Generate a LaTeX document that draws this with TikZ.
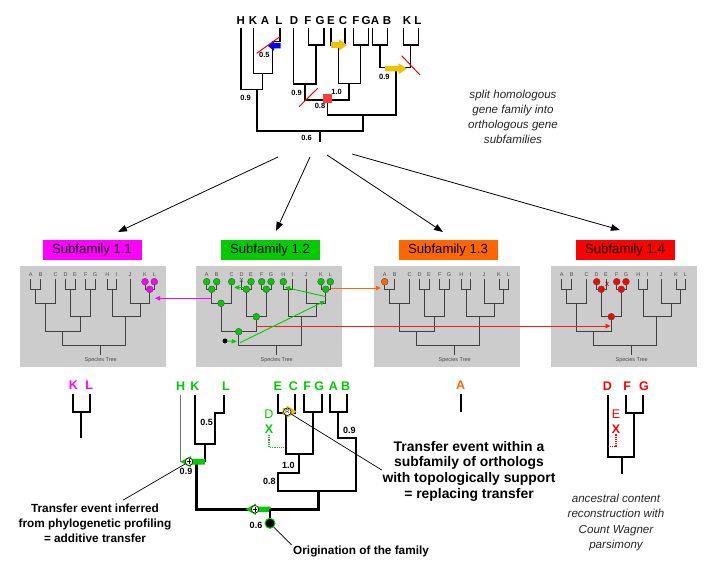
\documentclass[tikz,border=0pt]{standalone}
\usepackage{fontspec}
\setmainfont{Liberation Sans}
\usetikzlibrary{arrows.meta}

\definecolor{subA}{RGB}{255,0,255}
\definecolor{subB}{RGB}{0,204,0}
\definecolor{subC}{RGB}{255,102,0}
\definecolor{subD}{RGB}{255,0,0}
\definecolor{panelgray}{RGB}{204,204,204}
\definecolor{xfergold}{RGB}{235,195,0}
\definecolor{xferblue}{RGB}{0,0,255}
\definecolor{dupred}{RGB}{255,60,60}

\newcommand{\fsz}[2]{\fontsize{#1}{#2}\selectfont}

% fat transfer arrow: colour, tip, direction (1 right / -1 left),
% total length, head length, head half height, body half height
\newcommand{\fatarrow}[7]{%
  \fill[#1, shift={#2}, xscale=#3]
    (0,0) -- (-#5,#6) -- (-#5,#7) -- (-#4,#7) -- (-#4,-#7) -- (-#5,-#7) -- (-#5,-#6) -- cycle;}

% species tree panel: name prefix, left edge
\newcommand{\speciestree}[2]{%
  \begin{scope}[shift={(#2,266)}]
    \fill[panelgray] (0,0) rectangle (146,101);
    \foreach \spn/\spx in {A/10.7,B/20.7,C/35.7,D/45.7,E/55,F/65.7,G/75,H/87.3,I/96.7,J/110,K/125,L/134.3}{
      \node[splabel] (#1\spn) at (\spx,9) {\spn};
      \coordinate (#1\spn-g) at (\spx,15.7);
    }
    \draw[sptree]
      (10.7,13.3) |- (20.7,23.3) -- (20.7,13.3)
      (15.7,23.3) |- (35.7,37.3) -- (35.7,13.3)
      (45.7,13.3) |- (55,23.3) -- (55,13.3)
      (65.7,13.3) |- (75,23.3) -- (75,13.3)
      (50.3,23.3) |- (70.3,50.7) -- (70.3,23.3)
      (25,37.3) |- (60.3,65.7) -- (60.3,50.7)
      (87.3,13.3) |- (96.7,23.3) -- (96.7,13.3)
      (125,13.3) |- (134.3,23.3) -- (134.3,13.3)
      (110,13.3) |- (129.7,37.3) -- (129.7,23.3)
      (92,23.3) |- (120,50.7) -- (120,37.3)
      (42.7,65.7) |- (105.3,79) -- (105.3,50.7)
      (80.7,79) -- (80.7,89);
    \coordinate (#1AB) at (15.7,23.3);
    \coordinate (#1ABC) at (25,37.3);
    \coordinate (#1DE) at (50.3,23.3);
    \coordinate (#1FG) at (70.3,23.3);
    \coordinate (#1DEFG) at (60.3,50.7);
    \coordinate (#1AG) at (42.7,65.7);
    \coordinate (#1KL) at (129.7,23.3);
    \node[splabel] (#1tree) at (80.7,94) {Species Tree};
  \end{scope}}

\begin{document}
\begin{tikzpicture}[x=1pt, y=-1pt,
  every node/.style={inner sep=0pt},
  ttree/.style={line width=1.3pt},
  troot/.style={line width=2.4pt},
  cut/.style={red, line width=1pt},
  bsup/.style={font=\bfseries\fsz{7.5}{8}},
  bsupb/.style={font=\bfseries\fsz{9}{10}},
  leaf/.style={font=\bfseries\fsz{11.5}{12}},
  bleaf/.style={font=\bfseries\fsz{12.5}{13}},
  title/.style={minimum width=99pt, minimum height=20pt, font=\fsz{13.2}{14}},
  splabel/.style={font=\fsz{5.5}{6}, text=black!70},
  sptree/.style={line width=0.9pt, black!75},
  gene/.style={circle, draw=black!70, line width=0.4pt, minimum size=6.8pt},
  bigarrow/.style={line width=0.8pt, -{Triangle[length=9pt,width=6.5pt]}},
  thinarrow/.style={line width=0.9pt, -{Triangle[length=5pt,width=4.5pt]}},
  btree/.style={line width=1.9pt},
  broot/.style={line width=2.6pt},
  note/.style={font=\bfseries\fsz{11.8}{15}, align=center},
  remark/.style={font=\itshape\fsz{11.6}{15.2}, align=center, text=black!85},
  plusmark/.style={circle, draw, fill=white, line width=0.6pt, minimum size=7.5pt,
    path picture={\draw[line width=0.6pt] ([xshift=-2.3pt]path picture bounding box.center) -- ([xshift=2.3pt]path picture bounding box.center)
      ([yshift=-2.3pt]path picture bounding box.center) -- ([yshift=2.3pt]path picture bounding box.center);}},
  rmark/.style={circle, draw, fill=white, line width=0.6pt, minimum size=7.5pt, font=\fsz{5.5}{6}},
  origin/.style={circle, fill=black, draw=subB, line width=1pt, minimum size=10pt}
]
\useasboundingbox (0,0) rectangle (715,577);

% =========================================================================
% Homologous gene family tree
% =========================================================================
\foreach \lab/\lx [count=\i] in {H/240.7,K/253,A/265,L/279,D/294,F/308,G/320,E/331,C/343,F/356,G/366,A/375,B/387,K/407,L/418}
  \node[leaf] (top\i) at (\lx,21) {\lab};

\draw[ttree]
  (241,28.3) |- (262.7,89.3) -- (262.7,73.3)
  (253.3,28.3) |- (272.7,73.3) -- (272.7,41.7) -| (280,28.3)
  (293.3,28.3) |- (316,84) -- (316,45)
  (308.3,28.3) |- (324,45) -- (324,28.3)
  (305,84) |- (349,100) -- (349,83.3)
  (331,28.3) |- (345,45) -- (345,28.3)
  (338.3,45) |- (360.7,83.3) -- (360.7,45)
  (353.3,28.3) |- (368.3,45) -- (368.3,28.3)
  (372.7,28.3) |- (387.3,45) -- (387.3,28.3)
  (403.3,28.3) |- (418.3,45) -- (418.3,28.3)
  (380,45) |- (410.7,67.3) -- (410.7,45)
  (327.3,100) |- (396,115) -- (396,67.3);
\draw[troot]
  (256.7,89.3) |- (362.7,131) -- (362.7,115)
  (320,131) -- (320,141.7);

% transfers and losses
\fatarrow{xferblue}{(267.5,45.7)}{-1}{13}{6.5}{5}{2.7}
\fatarrow{xfergold}{(347,45)}{1}{16}{8}{5.6}{2.8}
\fatarrow{xfergold}{(407,68.7)}{1}{22}{8.5}{5.6}{2.8}
\draw[cut] (256.7,53.3) -- (280,36.7);
\draw[cut] (299,106.7) -- (317.7,88.3);
\draw[cut] (401.7,55.7) -- (420,75);
\node[fill=dupred, minimum size=9.5pt] (dup) at (327.5,98.7) {};

% branch supports
\node[bsup] (s1) at (264.3,55) {0.5};
\node[bsup] (s2) at (245.7,98.3) {0.9};
\node[bsup] (s3) at (296.7,92.7) {0.9};
\node[bsup] (s4) at (336.7,91.7) {1.0};
\node[bsup] (s5) at (320,106) {0.8};
\node[bsup] (s6) at (384.3,76.7) {0.9};
\node[bsup] (s7) at (306.7,138.3) {0.6};

\node[remark] (split) at (513,117) {split homologous\\gene family into\\orthologous gene\\subfamilies};

% =========================================================================
% Subfamily titles
% =========================================================================
\node[title, fill=subA] (ttlA) at (92,250) {Subfamily 1.1};
\node[title, fill=subB] (ttlB) at (270,250) {Subfamily 1.2};
\node[title, fill=subC] (ttlC) at (448,250) {Subfamily 1.3};
\node[title, fill=subD] (ttlD) at (625,250) {Subfamily 1.4};

\coordinate (fromA) at (278,157);
\coordinate (fromB) at (310,157);
\coordinate (fromC) at (327,155);
\coordinate (fromD) at (352,154);
\coordinate (toA) at (118,232);
\coordinate (toB) at (276,231);
\coordinate (toC) at (443,232);
\coordinate (toD) at (620,230);
\draw[bigarrow] (fromA) -- (toA);
\draw[bigarrow] (fromB) -- (toB);
\draw[bigarrow] (fromC) -- (toC);
\draw[bigarrow] (fromD) -- (toD);

% =========================================================================
% Species tree panels
% =========================================================================
\speciestree{pa}{20}
\speciestree{pb}{196}
\speciestree{pc}{374}
\speciestree{pd}{551}

% transfers between panels
\coordinate (magsrc) at (211.7,298.3);
\coordinate (magend) at (155,298.3);
\draw[thinarrow, subA] (magsrc) -- (magend);
\coordinate (orsrc) at (331,288);
\coordinate (orend) at (381,288);
\draw[thinarrow, subC] (orsrc) -- (orend);
\coordinate (redsrc) at (256.3,326);
\coordinate (redend) at (610.5,326);
\draw[thinarrow, red!90] (redsrc) -- (redend);

% Subfamily 1.1
\node[gene, fill=subA] (ga1) at (paK-g) {};
\node[gene, fill=subA] (ga2) at (paL-g) {};
\node[gene, fill=subA] (ga3) at (paKL) {};

% Subfamily 1.2
\foreach \g in {A,B,C,E,F,G,H,K,L}
  \node[gene, fill=subB] (gb\g) at (pb\g-g) {};
\foreach \g in {AB,DE,FG,KL,ABC,DEFG,AG}
  \node[gene, fill=subB] (gb\g) at (pb\g) {};
\node[font=\bfseries\fsz{6}{6}, text=black!60] (gbX) at (241.7,280.7) {X};
\node[circle, fill=black, minimum size=5pt] (gbdot) at (225,341) {};
\coordinate (g1s) at (244.5,287.5);
\coordinate (g1e) at (234.3,287.5);
\coordinate (g2s) at (326,296.7);
\coordinate (g2e) at (285,287.3);
\coordinate (g3s) at (240,342.7);
\coordinate (g3e) at (325,301);
\coordinate (g4e) at (236.7,341.5);
\draw[thinarrow, subB] (g1s) -- (g1e);
\draw[thinarrow, subB] (g2s) -- (g2e);
\draw[thinarrow, subB] (g3s) -- (g3e);
\draw[thinarrow, subB] (gbdot) -- (g4e);

% Subfamily 1.3
\node[gene, fill=subC] (gcA) at (pcA-g) {};

% Subfamily 1.4
\foreach \g in {D,F,G}
  \node[gene, fill=subD] (gd\g) at (pd\g-g) {};
\foreach \g in {DE,FG,DEFG}
  \node[gene, fill=subD] (gd\g) at (pd\g) {};
\node[font=\bfseries\fsz{6}{6}, text=subD!80!black] (gdX) at (607,284) {X};

% =========================================================================
% Reconstructed subfamily trees
% =========================================================================
% 1.1
\node[bleaf, text=subA] (bA1) at (73.3,385) {K};
\node[bleaf, text=subA] (bA2) at (89.3,385) {L};
\draw[btree] (72.7,394) |- (90,411.7) -- (90,394) (81,411.7) -- (81,438.3);

% 1.2
\foreach \lab/\lx [count=\i] in {H/180.7,K/195,L/226,E/277.7,C/293.3,F/307.3,G/319.3,A/333.3,B/345.7}
  \node[bleaf, text=subB] (bB\i) at (\lx,386) {\lab};
\draw[line width=1.4pt, black!55] (180.7,395) -- (180.7,461.7);
\draw[btree]
  (195,395) |- (215,444) |- (224.3,412.7) -- (224.3,395)
  (205,444) -- (205,461.7)
  (277.7,394) |- (295,412.7) -- (295,394)
  (285.7,412.7) |- (312.7,454.3) -- (312.7,411.7)
  (304,394) |- (321.7,411.7) -- (321.7,394)
  (330,394) |- (346.7,411.7) -- (346.7,394)
  (299,454.3) |- (277.7,473.3) |- (356,490.7) |- (338.3,437.7) -- (338.3,411.7);
\draw[broot] (196.7,461.7) |- (318.3,509.3) -- (318.3,490.7);
\node[bsupb] (b1) at (206.7,422.7) {0.5};
\node[bsupb] (b2) at (186,471.7) {0.9};
\node[bsupb] (b3) at (288.3,465) {1.0};
\node[bsupb] (b4) at (269.3,481.7) {0.8};
\node[bsupb] (b5) at (349.3,430.7) {0.9};
\node[bsupb] (b6) at (256,525) {0.6};
\node[font=\fsz{12.5}{13}, text=subB] (bBD) at (269,414.3) {D};
\node[bleaf, text=subB] (bBX) at (269,429.3) {X};
\draw[subB, densely dotted, line width=1.2pt] (269,435) |- (285,447.3);

\fatarrow{subB}{(180.2,461.7)}{-1}{25}{11}{5.8}{2.8}
\fatarrow{subB}{(245.5,509.3)}{-1}{25}{10.5}{5.8}{2.8}
\fatarrow{xfergold}{(296.5,411.7)}{1}{14}{10}{6.5}{3.5}
\node[plusmark] (pl1) at (189,461.7) {};
\node[plusmark] (pl2) at (255,509.3) {};
\node[rmark] (rr) at (287.3,411.7) {R};
\node[origin] (orig) at (270,523.3) {};
\draw[line width=1.5pt] (270,509.3) -- (orig.north);

% 1.3
\node[bleaf, text=subC] (bC1) at (460.7,385) {A};
\draw[btree] (460.7,394) -- (460.7,411.7);

% 1.4
\node[bleaf, text=subD] (bD1) at (607.3,386) {D};
\node[bleaf, text=subD] (bD2) at (627.3,386) {F};
\node[bleaf, text=subD] (bD3) at (644,386) {G};
\draw[btree]
  (607.7,395) |- (634.3,457.3) -- (634.3,412.7)
  (626,395) |- (643.3,412.7) -- (643.3,395)
  (621.7,457.3) -- (621.7,474);
\node[font=\fsz{12.5}{13}, text=subD] (bDE) at (616,414.3) {E};
\node[bleaf, text=subD] (bDX) at (616,429.3) {X};
\draw[subD, densely dotted, line width=1.2pt] (616,434.3) |- (608.3,446.7);
\node[remark] (wagner) at (616,522.5) {ancestral content\\reconstruction with\\Count Wagner\\parsimony};

% =========================================================================
% Annotations
% =========================================================================
\node[note] (addtxt) at (95,523) {Transfer event inferred\\from phylogenetic profiling\\= additive transfer};
\node[note, font=\bfseries\fsz{13.9}{15.7}] (reptxt) at (469,471) {Transfer event within a\\subfamily of orthologs\\with topologically support\\= replacing transfer};
\node[note, anchor=west] (origtxt) at (293,551.5) {Origination of the family};
\coordinate (addend) at (123.3,500);
\coordinate (repend) at (381.7,470);
\coordinate (origend) at (291.7,545);
\draw[line width=0.7pt] (pl1) -- (addend);
\draw[line width=0.7pt] (rr) -- (repend);
\draw[line width=0.7pt] (orig) -- (origend);

\end{tikzpicture}
\end{document}
